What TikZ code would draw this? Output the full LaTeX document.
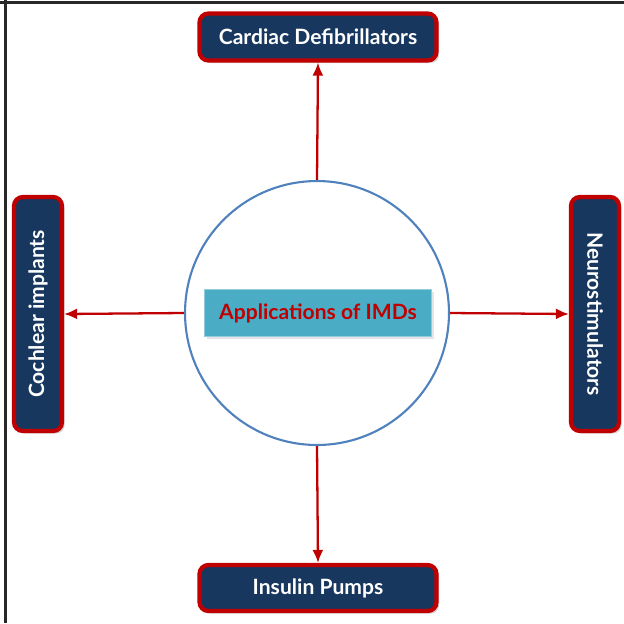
\documentclass[tikz,border=0pt]{standalone}
\usepackage{fontspec}
\setmainfont{Lato}
\definecolor{boxnavy}{RGB}{23, 55, 94}
\definecolor{rimred}{RGB}{192, 0, 0}
\definecolor{labteal}{RGB}{75, 172, 198}
\definecolor{ringblue}{RGB}{79, 129, 189}
\definecolor{framegray}{RGB}{40, 40, 40}
\usetikzlibrary{shapes, arrows.meta, positioning, calc, shadows}

\tikzset{
  appbox/.style={draw=rimred, line width=2.4pt, fill=boxnavy, rounded corners=5pt,
    text=white, font=\large\bfseries, align=center, inner sep=4pt,
    drop shadow={shadow xshift=1.5pt, shadow yshift=-1.5pt, opacity=0.35}},
  linkarrow/.style={draw=rimred, line width=1.3pt, -{Latex[length=2.6mm, width=2.2mm]}}
}

\begin{document}
\begin{tikzpicture}[x=0.02cm, y=-0.02cm]
  \useasboundingbox (0,0) rectangle (624,623);
  % frame
  \draw[framegray, line width=1.2pt] (0,2.5) -- (624,2.5);
  \draw[framegray, line width=1.2pt] (5.5,0) -- (5.5,623);

  % hub
  \node[circle, draw=ringblue, line width=1.2pt, fill=white, minimum size=5.28cm] (hub) at (317,313) {};
  \node[fill=labteal, draw=labteal!60!white, line width=0.6pt, minimum width=4.54cm, minimum height=0.94cm,
    text=rimred, font=\large\bfseries,
    drop shadow={shadow xshift=1.5pt, shadow yshift=-1.5pt, opacity=0.2}] (title) at (318,313) {Applications of IMDs};

  % applications
  \node[appbox, minimum width=4.74cm, minimum height=0.94cm] (cardiac) at (318,37) {Cardiac Defibrillators};
  \node[appbox, minimum width=4.74cm, minimum height=0.92cm] (insulin) at (318,588) {Insulin Pumps};
  \node[appbox, minimum width=4.68cm, minimum height=0.96cm, rotate=90] (cochlear) at (38,314) {Cochlear implants};
  \node[appbox, minimum width=4.68cm, minimum height=0.96cm, rotate=-90] (neuro) at (595,314) {Neurostimulators};

  % links
  \draw[linkarrow] (hub.north) -- (cardiac.south);
  \draw[linkarrow] (hub.south) -- (insulin.north);
  \draw[linkarrow] (hub.west) -- (cochlear.south);
  \draw[linkarrow] (hub.east) -- (neuro.south);
\end{tikzpicture}
\end{document}
